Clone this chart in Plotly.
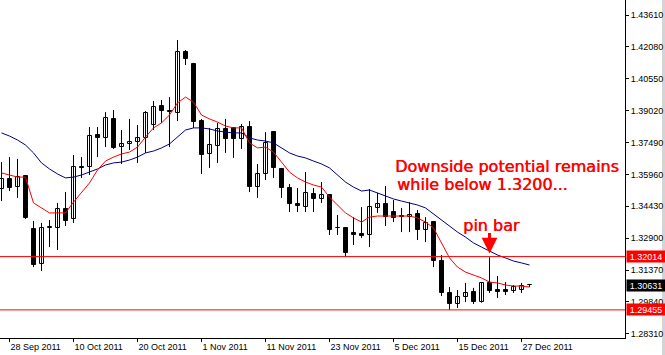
import plotly.graph_objects as go

dates = [
    "2011-09-27", "2011-09-28", "2011-09-29", "2011-09-30",
    "2011-10-03", "2011-10-04", "2011-10-05", "2011-10-06", "2011-10-07",
    "2011-10-10", "2011-10-11", "2011-10-12", "2011-10-13", "2011-10-14",
    "2011-10-17", "2011-10-18", "2011-10-19", "2011-10-20", "2011-10-21",
    "2011-10-24", "2011-10-25", "2011-10-26", "2011-10-27", "2011-10-28",
    "2011-10-31", "2011-11-01", "2011-11-02", "2011-11-03", "2011-11-04",
    "2011-11-07", "2011-11-08", "2011-11-09", "2011-11-10", "2011-11-11",
    "2011-11-14", "2011-11-15", "2011-11-16", "2011-11-17", "2011-11-18",
    "2011-11-21", "2011-11-22", "2011-11-23", "2011-11-24", "2011-11-25",
    "2011-11-28", "2011-11-29", "2011-11-30", "2011-12-01", "2011-12-02",
    "2011-12-05", "2011-12-06", "2011-12-07", "2011-12-08", "2011-12-09",
    "2011-12-12", "2011-12-13", "2011-12-14", "2011-12-15", "2011-12-16",
    "2011-12-19", "2011-12-20", "2011-12-21", "2011-12-22", "2011-12-23",
    "2011-12-26", "2011-12-27", "2011-12-28",
]

open_ = [1.3526, 1.3574, 1.3535, 1.3588, 1.3334, 1.3166, 1.3339, 1.3339, 1.3430, 1.3382,
         1.3631, 1.3631, 1.3785, 1.3771, 1.3862, 1.3727, 1.3742, 1.3751, 1.3771, 1.3833,
         1.3924, 1.3900, 1.3891, 1.4183, 1.4126, 1.3852, 1.3694, 1.3732, 1.3814, 1.3819,
         1.3766, 1.3823, 1.3535, 1.3598, 1.3799, 1.3622, 1.3531, 1.3454, 1.3439, 1.3502,
         1.3478, 1.3497, 1.3339, 1.3339, 1.3315, 1.3310, 1.3305, 1.3435, 1.3454, 1.3415,
         1.3396, 1.3391, 1.3406, 1.3329, 1.3367, 1.3180, 1.3027, 1.2974, 1.3007, 1.3031,
         1.2983, 1.3075, 1.3041, 1.3041, 1.3036, 1.3041, 1.3067]
high = [1.3655, 1.3679, 1.3670, 1.3593, 1.3372, 1.3363, 1.3377, 1.3459, 1.3511, 1.3689,
        1.3679, 1.3823, 1.3823, 1.3895, 1.3905, 1.3809, 1.3862, 1.3833, 1.3900, 1.3948,
        1.3953, 1.3967, 1.4241, 1.4193, 1.4131, 1.3862, 1.3819, 1.3843, 1.3862, 1.3823,
        1.3838, 1.3852, 1.3646, 1.3799, 1.3804, 1.3627, 1.3550, 1.3531, 1.3607, 1.3531,
        1.3559, 1.3502, 1.3401, 1.3343, 1.3391, 1.3439, 1.3526, 1.3507, 1.3540, 1.3473,
        1.3435, 1.3463, 1.3425, 1.3391, 1.3367, 1.3209, 1.3055, 1.3041, 1.3075, 1.3051,
        1.3079, 1.3198, 1.3108, 1.3079, 1.3065, 1.3075, 1.3070]
low = [1.3468, 1.3516, 1.3483, 1.3382, 1.3151, 1.3132, 1.3247, 1.3233, 1.3348, 1.3363,
       1.3579, 1.3593, 1.3679, 1.3727, 1.3718, 1.3646, 1.3713, 1.3651, 1.3699, 1.3809,
       1.3843, 1.3727, 1.3852, 1.4121, 1.3819, 1.3598, 1.3627, 1.3651, 1.3699, 1.3675,
       1.3718, 1.3511, 1.3483, 1.3569, 1.3579, 1.3483, 1.3415, 1.3415, 1.3415, 1.3415,
       1.3459, 1.3305, 1.3305, 1.3199, 1.3257, 1.3291, 1.3247, 1.3411, 1.3348, 1.3367,
       1.3319, 1.3319, 1.3281, 1.3271, 1.3151, 1.3012, 1.2946, 1.2955, 1.2983, 1.2974,
       1.2980, 1.3027, 1.3003, 1.3017, 1.3027, 1.3027, 1.3055]
close = [1.3574, 1.3531, 1.3583, 1.3387, 1.3161, 1.3339, 1.3343, 1.3430, 1.3372, 1.3631,
         1.3627, 1.3780, 1.3771, 1.3867, 1.3723, 1.3742, 1.3751, 1.3771, 1.3891, 1.3919,
         1.3900, 1.3895, 1.4183, 1.4150, 1.3847, 1.3689, 1.3737, 1.3814, 1.3766, 1.3766,
         1.3823, 1.3535, 1.3598, 1.3747, 1.3627, 1.3531, 1.3454, 1.3444, 1.3507, 1.3478,
         1.3497, 1.3329, 1.3337, 1.3219, 1.3305, 1.3300, 1.3439, 1.3454, 1.3391, 1.3387,
         1.3391, 1.3401, 1.3329, 1.3363, 1.3180, 1.3027, 1.2974, 1.3007, 1.3027, 1.2983,
         1.3075, 1.3036, 1.3031, 1.3031, 1.3055, 1.3060, 1.30631]

ma_fast = [1.3603, 1.3593, 1.3583, 1.3583, 1.3459, 1.3435, 1.3411, 1.3411, 1.3411, 1.3463,
           1.3507, 1.3555, 1.3617, 1.3660, 1.3679, 1.3694, 1.3703, 1.3727, 1.3775, 1.3819,
           1.3843, 1.3881, 1.3939, 1.3967, 1.3943, 1.3881, 1.3862, 1.3847, 1.3828, 1.3819,
           1.3819, 1.3747, 1.3723, 1.3727, 1.3703, 1.3655, 1.3607, 1.3579, 1.3559, 1.3545,
           1.3535, 1.3487, 1.3449, 1.3411, 1.3387, 1.3367, 1.3391, 1.3396, 1.3396, 1.3396,
           1.3396, 1.3396, 1.3387, 1.3367, 1.3339, 1.3267, 1.3195, 1.3151, 1.3127, 1.3113,
           1.3099, 1.3079, 1.3075, 1.3065, 1.3060, 1.3060, 1.3055]
ma_slow = [1.3795, 1.3780, 1.3761, 1.3737, 1.3699, 1.3651, 1.3622, 1.3598, 1.3579, 1.3583,
           1.3593, 1.3607, 1.3622, 1.3641, 1.3651, 1.3655, 1.3665, 1.3679, 1.3699, 1.3708,
           1.3723, 1.3742, 1.3775, 1.3809, 1.3819, 1.3819, 1.3814, 1.3804, 1.3799, 1.3795,
           1.3795, 1.3771, 1.3761, 1.3756, 1.3747, 1.3723, 1.3699, 1.3684, 1.3675, 1.3660,
           1.3646, 1.3627, 1.3593, 1.3559, 1.3535, 1.3516, 1.3521, 1.3507, 1.3492, 1.3478,
           1.3468, 1.3459, 1.3449, 1.3435, 1.3406, 1.3377, 1.3348, 1.3319, 1.3295, 1.3267,
           1.3247, 1.3228, 1.3209, 1.3195, 1.3180, 1.3171, 1.3161]

tick_dates = ["2011-09-28", "2011-10-10", "2011-10-20", "2011-11-01", "2011-11-11",
              "2011-11-23", "2011-12-05", "2011-12-15", "2011-12-27"]
tick_labels = ["28 Sep 2011", "10 Oct 2011", "20 Oct 2011", "1 Nov 2011", "11 Nov 2011",
               "23 Nov 2011", "5 Dec 2011", "15 Dec 2011", "27 Dec 2011"]
price_ticks = [1.43610, 1.42080, 1.40550, 1.39020, 1.37490, 1.35960, 1.34430,
               1.32900, 1.31370, 1.29840, 1.28310]
resistance = 1.32014
support = 1.29455
last_price = 1.30631
pin_bar_date = "2011-12-21"

fig = go.Figure()

# wicks
wx, wy = [], []
for d, h, l in zip(dates, high, low):
    wx += [d, d, None]
    wy += [l, h, None]
fig.add_trace(go.Scatter(x=wx, y=wy, mode="lines", line=dict(color="black", width=1),
                         hoverinfo="skip", showlegend=False))

# bodies
MIN_BODY = 0.00025
base, height, colors = [], [], []
for o, c in zip(open_, close):
    lo, hi = min(o, c), max(o, c)
    if hi - lo < MIN_BODY:
        mid = (hi + lo) / 2
        lo, hi = mid - MIN_BODY / 2, mid + MIN_BODY / 2
    base.append(lo)
    height.append(hi - lo)
    colors.append("white" if c >= o else "black")
fig.add_trace(go.Bar(x=dates, y=height, base=base, width=0.5,
                     marker=dict(color=colors, line=dict(color="black", width=1)),
                     showlegend=False))

fig.add_trace(go.Scatter(x=dates, y=ma_slow, mode="lines",
                         line=dict(color="#000080", width=1), showlegend=False))
fig.add_trace(go.Scatter(x=dates, y=ma_fast, mode="lines",
                         line=dict(color="#ff0000", width=1), showlegend=False))

for lvl in (resistance, support):
    fig.add_shape(type="line", xref="paper", x0=0, x1=1, yref="y", y0=lvl, y1=lvl,
                  line=dict(color="#ff0000", width=1))

# right-axis price boxes
for lvl, bg in ((resistance, "#ff0000"), (last_price, "black"), (support, "#ff0000")):
    fig.add_annotation(xref="paper", x=1, xanchor="left", xshift=1, yref="y", y=lvl,
                       yanchor="middle", text=f"{lvl:.5f}", showarrow=False,
                       bgcolor=bg, font=dict(color="white", size=9, family="Liberation Sans"),
                       width=38, height=11, borderpad=0)

note_font = dict(color="#ff0000", size=16, family="DejaVu Sans",
                 shadow="0.5px 0px 0px #ff0000")
fig.add_annotation(xref="x", x=48.9, yref="y", y=1.3633, xanchor="left", yanchor="middle",
                   text="Downside potential remains", showarrow=False, font=note_font)
fig.add_annotation(xref="x", x=49.2, yref="y", y=1.3546, xanchor="left", yanchor="middle",
                   text="while below 1.3200...", showarrow=False, font=note_font)
fig.add_annotation(xref="x", x=61.2, yref="y", y=1.3350, xanchor="center", yanchor="middle",
                   text="pin bar", showarrow=False, font=note_font)
fig.add_annotation(xref="x", x=pin_bar_date, yref="y", y=1.3216, text="", showarrow=True,
                   ax=0, ay=-22, arrowhead=2, arrowsize=1.05, arrowwidth=3,
                   arrowcolor="#ff0000", standoff=0)

fig.add_shape(type="rect", xref="paper", x0=662 / 625, x1=665 / 625, yref="paper",
              y0=-17 / 338, y1=1, fillcolor="#d4d4d4", line=dict(width=0), layer="below")

fig.update_layout(
    width=665, height=355, margin=dict(l=0, r=40, t=0, b=17),
    paper_bgcolor="white", plot_bgcolor="white", bargap=0, barmode="overlay",
    showlegend=False,
    xaxis=dict(type="category", categoryorder="array", categoryarray=dates,
               range=[-0.1875, 77.9375], showgrid=False, zeroline=False,
               showline=True, linecolor="black", linewidth=1,
               ticks="outside", ticklen=3, tickcolor="black",
               tickvals=tick_dates, ticktext=tick_labels,
               ticklabelposition="outside right",
               tickfont=dict(family="Liberation Sans", size=9, color="black"),
               fixedrange=True),
    yaxis=dict(side="right", range=[1.28106, 1.4433], showgrid=False, zeroline=False,
               showline=True, linecolor="black", linewidth=1, mirror=False,
               ticks="outside", ticklen=3, tickcolor="black",
               tickvals=price_ticks, ticktext=[f"{v:.5f}" for v in price_ticks],
               tickfont=dict(family="Liberation Sans", size=9, color="black"),
               fixedrange=True),
)

fig.write_html("out.html")
